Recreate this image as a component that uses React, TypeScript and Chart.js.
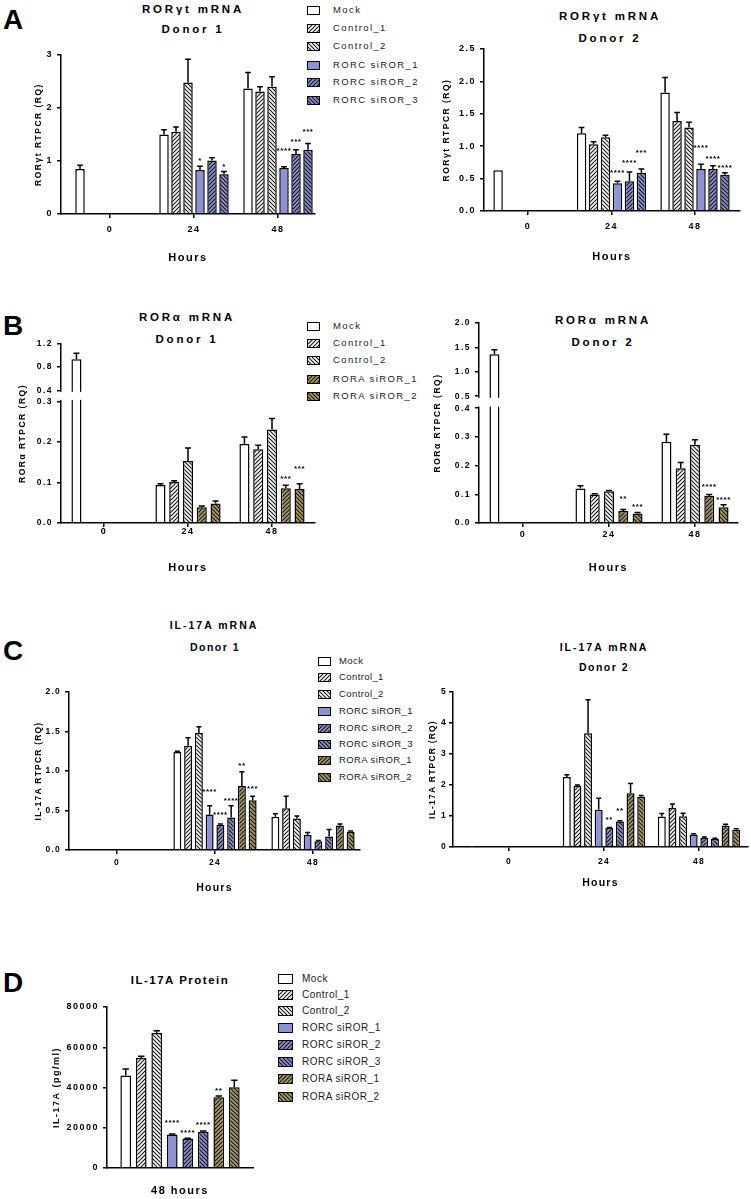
import React, { useEffect, useRef } from 'react';
import { Chart, registerables, LinearScale } from 'chart.js';

Chart.register(...registerables);

const FONT = "'Liberation Sans', Arial, Helvetica, sans-serif";
const BLUE = '#8d91d6';
const OLIVE = '#a99c62';

// ---------------- data ----------------
const HOURS = [0, 24, 48];
const SERIES_A = ['Mock', 'Control_1', 'Control_2', 'RORC siROR_1', 'RORC siROR_2', 'RORC siROR_3'];
const SERIES_B = ['Mock', 'Control_1', 'Control_2', 'RORA siROR_1', 'RORA siROR_2'];
const SERIES_CD = ['Mock', 'Control_1', 'Control_2', 'RORC siROR_1', 'RORC siROR_2', 'RORC siROR_3', 'RORA siROR_1', 'RORA siROR_2'];

// Panel A, donor 1 (RORγt)
const A1_MEAN = [
  [0.85, 1.50, 2.37],
  [null, 1.55, 2.31],
  [null, 2.48, 2.40],
  [null, 0.83, 0.87],
  [null, 1.01, 1.13],
  [null, 0.75, 1.21],
];
const A1_ERR = [
  [0.07, 0.09, 0.30],
  [0, 0.09, 0.09],
  [0, 0.44, 0.19],
  [0, 0.07, 0.02],
  [0, 0.05, 0.08],
  [0, 0.05, 0.12],
];
const A1_STARS = [
  ['', '', ''], ['', '', ''], ['', '', ''],
  ['', '*', '****'], ['', '', '***'], ['', '*', '***'],
];
const A1_YTICKS = [0, 1, 2, 3];

// Panel A, donor 2
const A2_MEAN = [
  [0.63, 1.20, 1.83],
  [null, 1.03, 1.39],
  [null, 1.14, 1.29],
  [null, 0.43, 0.65],
  [null, 0.46, 0.65],
  [null, 0.59, 0.56],
];
const A2_ERR = [
  [0, 0.09, 0.23],
  [0, 0.04, 0.13],
  [0, 0.03, 0.08],
  [0, 0.03, 0.07],
  [0, 0.14, 0.05],
  [0, 0.06, 0.03],
];
const A2_STARS = [
  ['', '', ''], ['', '', ''], ['', '', ''],
  ['', '****', '****'], ['', '****', '****'], ['', '***', '****'],
];
const A2_YTICKS = [0, 0.5, 1.0, 1.5, 2.0, 2.5];

// Panel B, donor 1 (RORα)
const B1_MEAN = [
  [0.935, 0.094, 0.195],
  [null, 0.101, 0.182],
  [null, 0.153, 0.231],
  [null, 0.039, 0.086],
  [null, 0.048, 0.084],
];
const B1_ERR = [
  [0.105, 0.003, 0.017],
  [0, 0.003, 0.010],
  [0, 0.032, 0.027],
  [0, 0.003, 0.007],
  [0, 0.006, 0.013],
];
const B1_STARS = [
  ['', '', ''], ['', '', ''], ['', '', ''],
  ['', '', '***'], ['', '', '***'],
];
const B1_YTICKS = [0, 0.1, 0.2, 0.3, 0.4, 0.8, 1.2];

// Panel B, donor 2
const B2_MEAN = [
  [1.36, 0.120, 0.283],
  [null, 0.099, 0.191],
  [null, 0.111, 0.273],
  [null, 0.042, 0.094],
  [null, 0.033, 0.055],
];
const B2_ERR = [
  [0.09, 0.010, 0.026],
  [0, 0.003, 0.020],
  [0, 0.002, 0.017],
  [0, 0.005, 0.005],
  [0, 0.004, 0.009],
];
const B2_STARS = [
  ['', '', ''], ['', '', ''], ['', '', ''],
  ['', '**', '****'], ['', '***', '****'],
];
const B2_YTICKS = [0, 0.1, 0.2, 0.3, 0.4, 0.5, 1.0, 1.5, 2.0];

// Panel C, donor 1 (IL-17A mRNA)
const C1_MEAN = [
  [0.01, 1.24, 0.42],
  [null, 1.32, 0.53],
  [null, 1.48, 0.40],
  [null, 0.45, 0.19],
  [null, 0.32, 0.11],
  [null, 0.41, 0.17],
  [null, 0.81, 0.31],
  [null, 0.63, 0.23],
];
const C1_ERR = [
  [0, 0.01, 0.04],
  [0, 0.10, 0.15],
  [0, 0.08, 0.03],
  [0, 0.11, 0.03],
  [0, 0.01, 0.01],
  [0, 0.15, 0.09],
  [0, 0.18, 0.02],
  [0, 0.05, 0.01],
];
const C1_STARS = [
  ['', '', ''], ['', '', ''], ['', '', ''],
  ['', '****', ''], ['', '****', ''], ['', '****', ''],
  ['', '**', ''], ['', '***', ''],
];
const C1_YTICKS = [0, 0.5, 1.0, 1.5, 2.0];

// Panel C, donor 2
const C2_MEAN = [
  [0.01, 2.26, 0.98],
  [null, 1.97, 1.26],
  [null, 3.67, 0.99],
  [null, 1.20, 0.40],
  [null, 0.61, 0.29],
  [null, 0.82, 0.26],
  [null, 1.73, 0.69],
  [null, 1.62, 0.56],
];
const C2_ERR = [
  [0, 0.07, 0.10],
  [0, 0.03, 0.13],
  [0, 1.08, 0.10],
  [0, 0.37, 0.03],
  [0, 0.02, 0.03],
  [0, 0.03, 0.02],
  [0, 0.32, 0.04],
  [0, 0.04, 0.03],
];
const C2_STARS = [
  ['', '', ''], ['', '', ''], ['', '', ''],
  ['', '', ''], ['', '**', ''], ['', '**', ''],
  ['', '', ''], ['', '', ''],
];
const C2_YTICKS = [0, 1, 2, 3, 4, 5];

// Panel D (IL-17A protein, 48 hours)
const D_LABELS = ['48 hours'];
const D_MEAN = [46000, 54700, 67100, 16600, 14600, 18000, 35100, 40100];
const D_ERR = [3200, 800, 1100, 350, 200, 350, 700, 3500];
const D_STARS = ['', '', '', '****', '****', '****', '**', ''];
const D_YTICKS = [0, 20000, 40000, 60000, 80000];

// ---------------- layout: extra lift (px) of significance marks, key "series-index" ----------------
const LIFT_A1: Record<string, number> = { '3-2': 11, '4-2': 3, '5-2': 6.5 };
const LIFT_A2: Record<string, number> = { '3-1': 3.5, '4-1': 4.5, '5-1': 11, '3-2': 11, '4-2': 1.5 };
const LIFT_B1: Record<string, number> = { '3-2': 1, '4-2': 10 };
const LIFT_B2: Record<string, number> = { '3-1': 6, '3-2': 2.5 };
const LIFT_C1: Record<string, number> = { '3-1': 9, '4-1': 4, '6-1': 1, '7-1': 2 };
const LIFT_C2: Record<string, number> = { '4-1': 2, '5-1': 4.5 };
const LIFT_D: Record<string, number> = { '3-0': 6, '5-0': 1.5 };

// ---------------- fills ----------------
function hatchTile(bg: string, dir: string | null): HTMLCanvasElement {
  const s = 4;
  const c = document.createElement('canvas');
  c.width = s; c.height = s;
  const g = c.getContext('2d')!;
  g.fillStyle = bg; g.fillRect(0, 0, s, s);
  if (dir) {
    g.strokeStyle = '#151515'; g.lineWidth = 1.1;
    g.beginPath();
    if (dir === '/') {
      g.moveTo(0, s); g.lineTo(s, 0);
      g.moveTo(-1, 1); g.lineTo(1, -1);
      g.moveTo(s - 1, s + 1); g.lineTo(s + 1, s - 1);
    } else {
      g.moveTo(0, 0); g.lineTo(s, s);
      g.moveTo(-1, s - 1); g.lineTo(1, s + 1);
      g.moveTo(s - 1, -1); g.lineTo(s + 1, 1);
    }
    g.stroke();
  }
  return c;
}
const FILL_SPEC: Record<string, [string, string | null]> = {
  'Mock': ['#ffffff', null],
  'Control_1': ['#ffffff', '/'],
  'Control_2': ['#ffffff', '\\'],
  'RORC siROR_1': [BLUE, null],
  'RORC siROR_2': [BLUE, '/'],
  'RORC siROR_3': [BLUE, '\\'],
  'RORA siROR_1': [OLIVE, '/'],
  'RORA siROR_2': [OLIVE, '\\'],
};
const tileCache: Record<string, HTMLCanvasElement> = {};
function tileFor(name: string) {
  if (!tileCache[name]) tileCache[name] = hatchTile(FILL_SPEC[name][0], FILL_SPEC[name][1]);
  return tileCache[name];
}
function chartFill(name: string): any {
  const [bg, dir] = FILL_SPEC[name];
  if (!dir) return bg;
  const t = tileFor(name);
  return t.getContext('2d')!.createPattern(t, 'repeat');
}
function cssFill(name: string): string {
  const [bg, dir] = FILL_SPEC[name];
  if (!dir) return bg;
  return `url(${tileFor(name).toDataURL()}) repeat`;
}

// ---------------- custom broken scale ----------------
class BrokenScale extends LinearScale {
  static id = 'broken';
  static defaults = LinearScale.defaults;
  toDec(v: number): number {
    const b = (this.options as any).brk;
    const max = (this as any).max;
    if (v <= b.lowMax) return (v / b.lowMax) * b.lowFrac;
    if (v >= b.highMin) return b.lowFrac + b.gapFrac + ((v - b.highMin) / (max - b.highMin)) * (1 - b.lowFrac - b.gapFrac);
    return b.lowFrac + ((v - b.lowMax) / (b.highMin - b.lowMax)) * b.gapFrac;
  }
  getPixelForValue(value: number) {
    return (this as any).getPixelForDecimal(this.toDec(value));
  }
  getValueForPixel(pixel: number) {
    const b = (this.options as any).brk;
    const d = (this as any).getDecimalForPixel(pixel);
    const max = (this as any).max;
    if (d <= b.lowFrac) return (d / b.lowFrac) * b.lowMax;
    if (d >= b.lowFrac + b.gapFrac) return b.highMin + ((d - b.lowFrac - b.gapFrac) / (1 - b.lowFrac - b.gapFrac)) * (max - b.highMin);
    return b.lowMax + ((d - b.lowFrac) / b.gapFrac) * (b.highMin - b.lowMax);
  }
}
Chart.register(BrokenScale as any);

// ---------------- plugins ----------------
const spacingPlugin = {
  id: 'spacing',
  beforeDraw(chart: any, _a: any, opts: any) {
    chart.ctx.letterSpacing = (opts && opts.px ? opts.px : 0) + 'px';
  },
};
const errorBarPlugin = {
  id: 'errorBars',
  afterDatasetsDraw(chart: any, _a: any, opts: any) {
    const ctx = chart.ctx;
    const ys = chart.scales.y;
    const lift = (opts && opts.lift) || {};
    ctx.save();
    ctx.strokeStyle = '#000';
    ctx.lineWidth = 1.5;
    ctx.fillStyle = '#000';
    ctx.letterSpacing = '0.6px';
    ctx.font = `bold 8px ${FONT}`;
    ctx.textAlign = 'center';
    ctx.textBaseline = 'alphabetic';
    chart.data.datasets.forEach((ds: any, di: number) => {
      const meta = chart.getDatasetMeta(di);
      meta.data.forEach((bar: any, i: number) => {
        const parsed = meta.controller.getParsed(i);
        const v = parsed ? parsed.y : null;
        if (v === null || v === undefined || isNaN(v)) return;
        const e = ds.errs ? ds.errs[i] : 0;
        let top = bar.y;
        if (e) {
          const ep = ys.getPixelForValue(v + e);
          const cap = Math.max(2.5, bar.width * 0.3);
          ctx.beginPath();
          ctx.moveTo(bar.x, bar.y);
          ctx.lineTo(bar.x, ep);
          ctx.moveTo(bar.x - cap, ep);
          ctx.lineTo(bar.x + cap, ep);
          ctx.stroke();
          top = ep;
        }
        const s = ds.stars ? ds.stars[i] : '';
        if (s) ctx.fillText(s, bar.x, top - 3 - (lift[`${di}-${i}`] || 0));
      });
    });
    ctx.restore();
  },
};
const breakPlugin = {
  id: 'axisBreak',
  afterDraw(chart: any) {
    const ys = chart.scales.y;
    const b = (ys.options as any).brk;
    if (!b) return;
    const ctx = chart.ctx;
    const top = ys.getPixelForValue(b.highMin) + 1.6;
    const bot = ys.getPixelForValue(b.lowMax) - 1.6;
    const left = chart.chartArea.left - 3;
    const right = chart.scales.x.getPixelForValue(12);
    ctx.save();
    ctx.fillStyle = '#fff';
    ctx.fillRect(left, top, right - left, bot - top);
    ctx.restore();
  },
};

// ---------------- panel ----------------
type PanelProps = {
  names: string[];
  means: any[];
  errs: any[];
  stars: any[];
  lift?: Record<string, number>;
  categories?: string[];
  yTicks: number[];
  yMax: number;
  dec: number;
  brk?: any;
  yTitle: string;
  xTitle?: string;
  axisX: number; yZero: number; yTop: number; xEnd: number;
  c0?: number; c48?: number;
  yTitleX: number; hoursY?: number; xLabelY: number;
  catPct: number; barPct: number;
  tickSize: number; yTitleSize: number; xTitleSize: number; xTickSize: number;
  ls: number; yTickPad?: number;
};

function BarPanel(p: PanelProps) {
  const ref = useRef<HTMLCanvasElement>(null);
  const PAD_T = 30, PAD_R = 30;
  const lhY = p.yTitleSize * 1.2;
  const lhX = p.xTitleSize * 1.2;
  const L = Math.floor(p.yTitleX - lhY / 2);
  const T = Math.round(p.yTop - PAD_T);
  const W = Math.ceil(p.xEnd + PAD_R - L);
  const bottomY = p.hoursY != null ? p.hoursY + lhX / 2 + 2 : p.xLabelY + 7;
  const H = Math.ceil(bottomY - T);
  const padTop = p.yTop - T;
  const padRight = W - (p.xEnd - L);
  const Wy = p.axisX - L;
  const Hx = T + H - p.yZero;

  useEffect(() => {
    const isCat = !!p.categories;
    const datasets = p.names.map((n, k) => ({
      label: n,
      data: isCat ? [p.means[k]] : HOURS.map((h, i) => ({ x: h, y: p.means[k][i] })),
      errs: isCat ? [p.errs[k]] : p.errs[k],
      stars: isCat ? [p.stars[k]] : p.stars[k],
      backgroundColor: chartFill(n),
      borderColor: '#000',
      borderWidth: 1.5,
      borderSkipped: 'start',
      categoryPercentage: p.catPct,
      barPercentage: p.barPct,
      clip: false,
    }));
    const tickFont = { family: FONT, size: p.tickSize, weight: 'bold' as const };
    const grid = {
      display: true, offset: false, drawOnChartArea: false, drawTicks: true,
      tickLength: 4, tickWidth: 1.5, tickColor: '#000', color: '#000', lineWidth: 1.5,
    };
    const border = { display: true, color: '#000', width: 1.5 };
    const xTickPad = p.xLabelY - p.yZero - (isCat ? 0 : 4) - 0.6 * p.xTickSize;
    let xScale: any;
    if (isCat) {
      xScale = {
        type: 'category', offset: true,
        grid: { display: false, drawTicks: false, tickLength: 0 },
        border,
        afterFit: (sc: any) => { sc.height = Hx; },
        ticks: { padding: xTickPad, font: { family: FONT, size: p.xTickSize, weight: 'bold' }, color: '#000', maxRotation: 0 },
      };
    } else {
      const s = (p.c48! - p.c0!) / 48;
      xScale = {
        type: 'linear', offset: false,
        min: -(p.c0! - p.axisX) / s,
        max: (p.xEnd - p.c0!) / s,
        afterBuildTicks: (sc: any) => { sc.ticks = HOURS.map((v) => ({ value: v })); },
        afterFit: (sc: any) => { sc.height = Hx; },
        grid, border,
        ticks: {
          autoSkip: false, maxRotation: 0, padding: xTickPad,
          font: { family: FONT, size: p.xTickSize, weight: 'bold' }, color: '#000',
          callback: (v: any) => String(v),
        },
        title: {
          display: true, text: p.xTitle, color: '#000',
          font: { family: FONT, size: p.xTitleSize, weight: 'bold' },
          padding: { top: 0, bottom: (T + H) - lhX / 2 - (p.hoursY as number) },
        },
      };
    }
    const yScale: any = {
      type: p.brk ? 'broken' : 'linear',
      min: 0, max: p.yMax,
      brk: p.brk,
      afterBuildTicks: (sc: any) => { sc.ticks = p.yTicks.map((v) => ({ value: v })); },
      afterFit: (sc: any) => { sc.width = Wy; },
      grid, border,
      ticks: {
        autoSkip: false, padding: p.yTickPad ?? 4, font: tickFont, color: '#000',
        callback: (v: any) => Number(v).toFixed(p.dec),
      },
      title: {
        display: true, text: p.yTitle, color: '#000',
        font: { family: FONT, size: p.yTitleSize, weight: 'bold' },
        padding: { top: p.yTitleX - L - lhY / 2, bottom: 0 },
      },
    };
    const chart = new Chart(ref.current!, {
      type: 'bar',
      data: { labels: p.categories, datasets: datasets as any },
      options: {
        responsive: false,
        animation: false,
        devicePixelRatio: 1,
        layout: { padding: { top: padTop, right: padRight, left: 0, bottom: 0 } },
        plugins: {
          legend: { display: false },
          tooltip: { enabled: false },
          title: { display: false },
          spacing: { px: p.ls },
          errorBars: { lift: p.lift || {} },
        } as any,
        scales: { x: xScale, y: yScale },
      },
      plugins: [spacingPlugin, errorBarPlugin, breakPlugin],
    });
    return () => chart.destroy();
  }, []);

  return (
    <canvas
      ref={ref}
      width={W}
      height={H}
      style={{ position: 'absolute', left: L, top: T, width: W, height: H }}
    />
  );
}

// ---------------- text helpers ----------------
function Txt(props: { x: number; y: number; text: string; size: number; ls?: number; weight?: string; left?: boolean; color?: string }) {
  return (
    <div
      style={{
        position: 'absolute', left: props.x, top: props.y,
        transform: props.left ? 'translate(0,-50%)' : 'translate(-50%,-50%)',
        fontFamily: FONT, fontSize: props.size, fontWeight: (props.weight || 'bold') as any,
        letterSpacing: props.ls || 0, lineHeight: 1, whiteSpace: 'nowrap', color: props.color || '#000',
      }}
    >
      {props.text}
    </div>
  );
}

function Legend(props: { names: string[]; rows: number[]; swX: number; swW: number; swH: number; textX: number; size: number; ls: number }) {
  return (
    <>
      {props.names.map((n, i) => (
        <React.Fragment key={n}>
          <div
            style={{
              position: 'absolute', left: props.swX, top: props.rows[i] - props.swH / 2,
              width: props.swW, height: props.swH, boxSizing: 'border-box',
              border: '1.5px solid #000', background: cssFill(n),
            }}
          />
          <Txt x={props.textX} y={props.rows[i]} text={n} size={props.size} ls={props.ls} weight="normal" left color="#1a1a1a" />
        </React.Fragment>
      ))}
    </>
  );
}

export default function App() {
  return (
    <div style={{ position: 'absolute', left: 0, top: 0, width: 751, height: 1199, background: '#fff', overflow: 'hidden' }}>
      {/* panel letters */}
      <Txt x={3} y={20} text="A" size={28} left />
      <Txt x={3} y={326} text="B" size={28} left />
      <Txt x={3} y={651} text="C" size={28} left />
      <Txt x={3} y={983} text="D" size={28} left />

      {/* titles */}
      <Txt x={193} y={10} text="RORγt mRNA" size={11.5} ls={2.8} />
      <Txt x={193} y={30} text="Donor 1" size={11.5} ls={2.8} />
      <Txt x={610} y={17} text="RORγt mRNA" size={11.5} ls={2.8} />
      <Txt x={610} y={39} text="Donor 2" size={11.5} ls={2.8} />
      <Txt x={187} y={318} text="RORα mRNA" size={11.5} ls={2.8} />
      <Txt x={187} y={340} text="Donor 1" size={11.5} ls={2.8} />
      <Txt x={603} y={321} text="RORα mRNA" size={11.5} ls={2.8} />
      <Txt x={603} y={343} text="Donor 2" size={11.5} ls={2.8} />
      <Txt x={214} y={625} text="IL-17A mRNA" size={10.5} ls={2} />
      <Txt x={215} y={647} text="Donor 1" size={10.5} ls={1.5} />
      <Txt x={604} y={647} text="IL-17A mRNA" size={10.5} ls={2} />
      <Txt x={604} y={667} text="Donor 2" size={10.5} ls={1.5} />
      <Txt x={180} y={981} text="IL-17A Protein" size={11.5} ls={1.5} />

      {/* legends */}
      <Legend names={SERIES_A} rows={[10, 28, 46, 65, 82, 100]} swX={307} swW={13} swH={9} textX={333} size={9.5} ls={1.4} />
      <Legend names={SERIES_B} rows={[326, 343, 360, 379, 396]} swX={307} swW={13} swH={9} textX={333} size={9.5} ls={1.4} />
      <Legend names={SERIES_CD} rows={[661, 677, 694, 711, 728, 744, 760, 777]} swX={318} swW={13} swH={9} textX={339} size={9.5} ls={0.4} />
      <Legend names={SERIES_CD} rows={[979, 995, 1011, 1028, 1045, 1062, 1079, 1097]} swX={278} swW={15} swH={10} textX={302} size={10} ls={0.5} />

      <BarPanel
        names={SERIES_A} means={A1_MEAN} errs={A1_ERR} stars={A1_STARS} lift={LIFT_A1}
        yTicks={A1_YTICKS} yMax={3} dec={0} yTitle="RORγt RTPCR (RQ)" xTitle="Hours"
        axisX={61} yZero={214} yTop={55} xEnd={315} c0={110} c48={278}
        yTitleX={39} hoursY={258} xLabelY={230} catPct={0.857} barPct={0.79}
        tickSize={9} yTitleSize={8.5} xTitleSize={11} xTickSize={9} ls={1.5}
      />
      <BarPanel
        names={SERIES_A} means={A2_MEAN} errs={A2_ERR} stars={A2_STARS} lift={LIFT_A2}
        yTicks={A2_YTICKS} yMax={2.5} dec={1} yTitle="RORγt RTPCR (RQ)" xTitle="Hours"
        axisX={484} yZero={211} yTop={49} xEnd={740} c0={528} c48={695}
        yTitleX={447} hoursY={257} xLabelY={227} catPct={0.86} barPct={0.79}
        tickSize={9} yTitleSize={8.5} xTitleSize={11} xTickSize={9} ls={1.5}
      />
      <BarPanel
        names={SERIES_B} means={B1_MEAN} errs={B1_ERR} stars={B1_STARS} lift={LIFT_B1}
        yTicks={B1_YTICKS} yMax={1.2} dec={1} yTitle="RORα RTPCR (RQ)" xTitle="Hours"
        brk={{ lowMax: 0.3, highMin: 0.4, lowFrac: 0.679, gapFrac: 0.0626 }}
        axisX={61} yZero={523} yTop={344} xEnd={315} c0={104} c48={272}
        yTitleX={23} hoursY={568} xLabelY={532} catPct={0.82} barPct={0.73}
        tickSize={8.5} yTitleSize={8.5} xTitleSize={11} xTickSize={9} ls={1.5}
      />
      <BarPanel
        names={SERIES_B} means={B2_MEAN} errs={B2_ERR} stars={B2_STARS} lift={LIFT_B2}
        yTicks={B2_YTICKS} yMax={2.0} dec={1} yTitle="RORα RTPCR (RQ)" xTitle="Hours"
        brk={{ lowMax: 0.4, highMin: 0.5, lowFrac: 0.574, gapFrac: 0.06 }}
        axisX={479} yZero={523} yTop={323} xEnd={738} c0={523} c48={695}
        yTitleX={438} hoursY={568} xLabelY={535} catPct={0.83} barPct={0.7}
        tickSize={8.5} yTitleSize={8.5} xTitleSize={11} xTickSize={9} ls={1.5}
      />
      <BarPanel
        names={SERIES_CD} means={C1_MEAN} errs={C1_ERR} stars={C1_STARS} lift={LIFT_C1}
        yTicks={C1_YTICKS} yMax={2} dec={1} yTitle="IL-17A RTPCR (RQ)" xTitle="Hours"
        axisX={69} yZero={850} yTop={692} xEnd={360} c0={117} c48={313}
        yTitleX={39} hoursY={888} xLabelY={863} catPct={0.878} barPct={0.74}
        tickSize={8.5} yTitleSize={8.5} xTitleSize={10.5} xTickSize={8.5} ls={1.2}
      />
      <BarPanel
        names={SERIES_CD} means={C2_MEAN} errs={C2_ERR} stars={C2_STARS} lift={LIFT_C2}
        yTicks={C2_YTICKS} yMax={5} dec={0} yTitle="IL-17A RTPCR (RQ)" xTitle="Hours"
        axisX={453} yZero={847} yTop={692} xEnd={748} c0={509} c48={699}
        yTitleX={433} hoursY={883} xLabelY={862} catPct={0.895} barPct={0.75}
        tickSize={8.5} yTitleSize={8.5} xTitleSize={10.5} xTickSize={8.5} ls={1.2} yTickPad={2}
      />
      <BarPanel
        names={SERIES_CD} means={D_MEAN} errs={D_ERR} stars={D_STARS} categories={D_LABELS} lift={LIFT_D}
        yTicks={D_YTICKS} yMax={80000} dec={0} yTitle="IL-17A (pg/ml)"
        axisX={107} yZero={1168} yTop={1007} xEnd={253}
        yTitleX={57} xLabelY={1191} catPct={0.85} barPct={0.69}
        tickSize={9} yTitleSize={9} xTitleSize={11} xTickSize={11} ls={1.5}
      />
    </div>
  );
}
